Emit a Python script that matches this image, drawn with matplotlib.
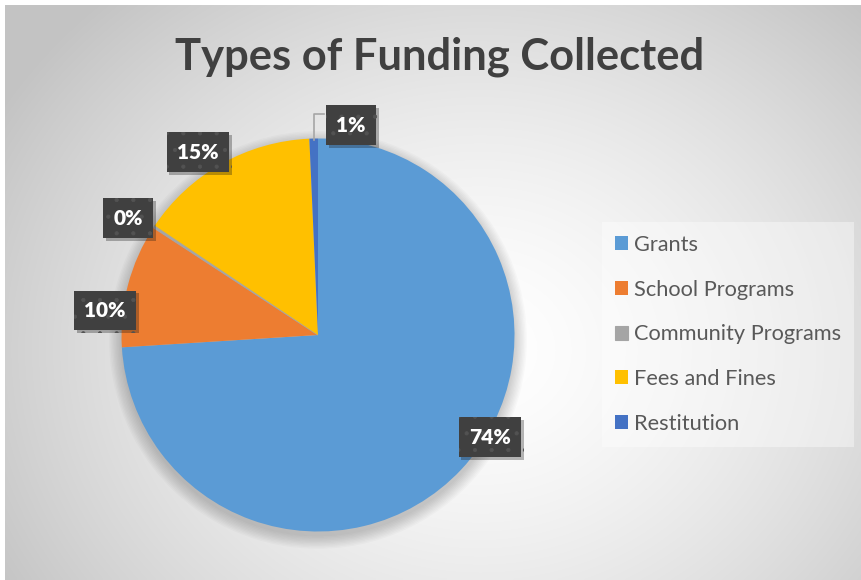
import numpy as np
import matplotlib.pyplot as plt
from matplotlib.patches import Circle
import matplotlib.patheffects as pe

plt.rcParams['hatch.linewidth'] = 0.6

# data
categories = ['Grants', 'School Programs', 'Community Programs', 'Fees and Fines', 'Restitution']
shares = [74.0, 10.2, 0.2, 14.9, 0.7]
pct_labels = ['74%', '10%', '0%', '15%', '1%']
colors = ['#5B9BD5', '#ED7D31', '#A5A5A5', '#FFC000', '#4472C4']

# label box centres (pie radius = 1)
label_pos = [(0.875, -0.52), (-1.084, 0.125), (-0.967, 0.595), (-0.611, 0.931), (0.168, 1.068)]

W, H = 861, 580
fig = plt.figure(figsize=(W / 100, H / 100), dpi=100, facecolor='white')

# radial gradient background
bg = fig.add_axes([5 / W, 0, 1 - 5 / W, 1 - 5 / H])
bg.set_axis_off()
xx, yy = np.meshgrid(np.arange(856), np.arange(575))
cx, cy = 480, 350
d = np.sqrt(((xx + 5 - cx) / 560.0) ** 2 + ((yy + 5 - cy) / 480.0) ** 2)
val = 255 - 60 * np.clip(d, 0, 1) ** 1.5
img = np.dstack([val, val, val]).astype(np.uint8)
bg.imshow(img, aspect='auto', extent=(0, 1, 0, 1))
bg.set_xlim(0, 1)
bg.set_ylim(0, 1)

# pie axes, centre at (318, 335) px, radius 196.5 px
R = 196.5
half = 240
ax = fig.add_axes([(318 - half) / W, (H - 335 - half) / H, 2 * half / W, 2 * half / H])
ax.set_axis_off()

# soft shadow under pie
for i in range(10):
    ax.add_patch(Circle((0.0, -0.025), 1.0 + 0.007 * i, color='black', alpha=0.018, lw=0))

wedges, _ = ax.pie(shares, colors=colors, startangle=90, counterclock=False,
                   radius=1, wedgeprops=dict(linewidth=0))
wedges[2].set_edgecolor('#A5A5A5')
wedges[2].set_linewidth(0.8)
ax.set_xlim(-half / R, half / R)
ax.set_ylim(-half / R, half / R)

# leader line for the small slice
ax.plot([-0.02, -0.02, 0.03], [0.99, 1.125, 1.125], color='#A6A6A6', lw=1.2)

for txt, (lx, ly) in zip(pct_labels, label_pos):
    t = ax.text(lx, ly, txt, ha='center', va='center', color='white',
                fontsize=15, fontweight='heavy', family='Lato',
                bbox=dict(boxstyle='square,pad=0.5', facecolor='#404040',
                          edgecolor='#525252', hatch='.', linewidth=0))
    t.get_bbox_patch().set_path_effects([pe.SimplePatchShadow(offset=(2, -2), alpha=0.3),
                                         pe.Normal()])

fig.text(440 / W, 1 - 57 / H, 'Types of Funding Collected', ha='center', va='center',
         fontsize=31.3, fontweight='bold', color='#404040', family='Lato')

leg = fig.legend(wedges, categories, loc='upper left',
                 bbox_to_anchor=(602 / W, 1 - 222 / H), frameon=True,
                 prop={'family': 'Lato', 'size': 15.7},
                 handlelength=0.6, handleheight=0.6, handletextpad=0.25,
                 labelspacing=1.13, borderpad=0.6, borderaxespad=0, fancybox=False)
leg.get_frame().set_facecolor('white')
leg.get_frame().set_alpha(0.4)
leg.get_frame().set_linewidth(0)
for t in leg.get_texts():
    t.set_color('#595959')

fig.savefig('out.png', dpi=100, facecolor='white')
